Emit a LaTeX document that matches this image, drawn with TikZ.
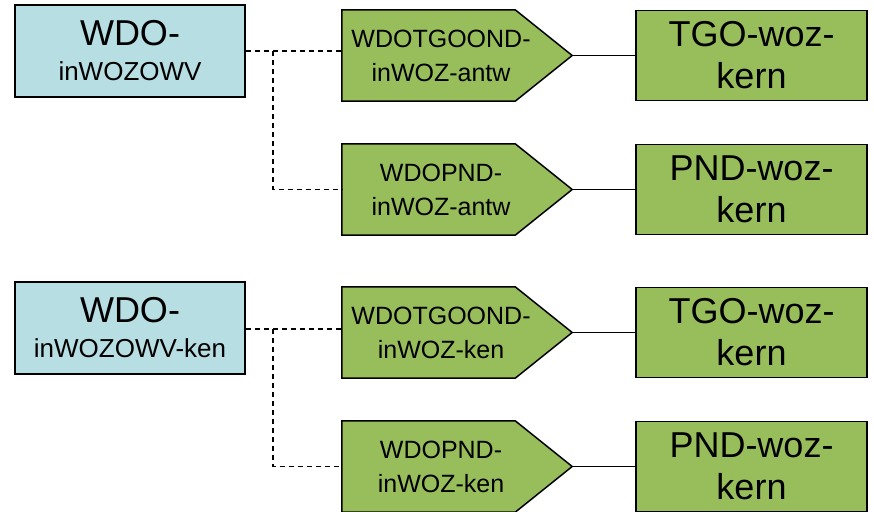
\documentclass[tikz,border=0pt]{standalone}
\usepackage{fontspec}
\setmainfont{Liberation Sans}
\usetikzlibrary{backgrounds}
\definecolor{boxblue}{RGB}{183,222,226}
\definecolor{boxgreen}{RGB}{152,190,92}
\tikzset{
  bluebox/.style={draw=black, line width=1.5pt, fill=boxblue, minimum width=230, minimum height=92, inner sep=0pt, align=center, font=\fontsize{26}{35}\selectfont},
  pentnode/.style={minimum width=198, minimum height=91, inner sep=0pt, align=center, font=\fontsize{25}{34}\selectfont},
  pentshape/.style={draw=black, line width=1.5pt, fill=boxgreen, line join=miter},
  greenbox/.style={draw=black, line width=1.5pt, fill=boxgreen, minimum width=231, minimum height=90, inner sep=0pt, align=center, font=\fontsize{36}{42}\selectfont},
  dashlink/.style={line width=1.3pt, dash pattern=on 5pt off 4pt},
  solidlink/.style={line width=1.3pt}
}
\begin{document}
\begin{tikzpicture}[x=1pt,y=-1pt]
\useasboundingbox (0,0) rectangle (874,511);
% left boxes
\node[bluebox] (b1) at (130,51) {{\fontsize{36}{35}\selectfont WDO-}\\inWOZOWV};
\node[bluebox] (b2) at (130,328) {{\fontsize{36}{35}\selectfont WDO-}\\inWOZOWV-ken};
% pentagon text nodes
\node[pentnode] (p1) at (441,55.5) {WDOTGOOND-\\inWOZ-antw};
\node[pentnode] (p2) at (441,189.5) {WDOPND-\\inWOZ-antw};
\node[pentnode] (p3) at (441,332.5) {WDOTGOOND-\\inWOZ-ken};
\node[pentnode] (p4) at (441,466.5) {WDOPND-\\inWOZ-ken};
% right boxes
\node[greenbox] (r1) at (751.5,55.5) {TGO-woz-\\kern};
\node[greenbox] (r2) at (751.5,189.5) {PND-woz-\\kern};
\node[greenbox] (r3) at (751.5,332.5) {TGO-woz-\\kern};
\node[greenbox] (r4) at (751.5,466.5) {PND-woz-\\kern};
% tips of pentagons
\foreach \p in {p1,p2,p3,p4}{
  \coordinate (\p tip) at ([xshift=32]\p.east);
}
\begin{pgfonlayer}{background}
\foreach \p in {p1,p2,p3,p4}{
  \draw[pentshape] (\p.north west) -- ([xshift=-25]\p.north east) -- (\p tip) -- ([xshift=-25]\p.south east) -- (\p.south west) -- cycle;
}
\end{pgfonlayer}
% dashed connectors
\coordinate (j1) at (273,0);
\draw[dashlink] (b1.east) -- (b1.east -| p1.west);
\draw[dashlink] (b1.east -| j1) -- (p2.west -| j1) -- (p2.west);
\draw[dashlink] ([yshift=-1]b2.east) -- ([yshift=-1]b2.east -| p3.west);
\draw[dashlink] ([yshift=-1]b2.east -| j1) -- (p4.west -| j1) -- (p4.west);
% solid connectors
\draw[solidlink] (p1tip) -- (r1.west |- p1tip);
\draw[solidlink] (p2tip) -- (r2.west |- p2tip);
\draw[solidlink] (p3tip) -- (r3.west |- p3tip);
\draw[solidlink] (p4tip) -- (r4.west |- p4tip);
\end{tikzpicture}
\end{document}
